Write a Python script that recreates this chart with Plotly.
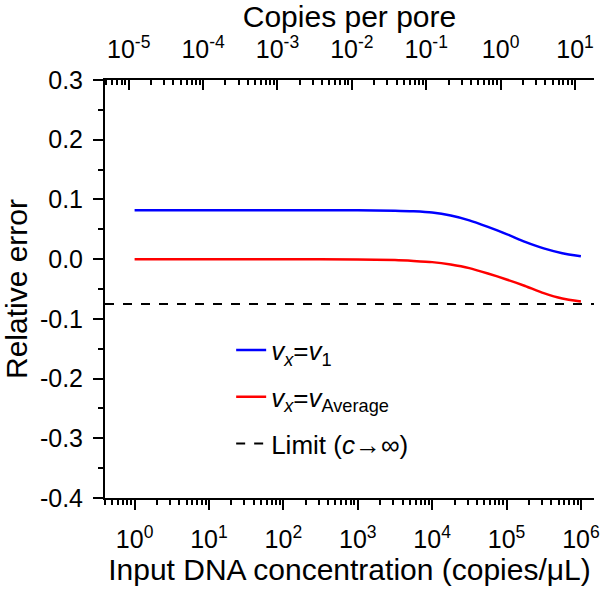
import math
import plotly.graph_objects as go

# ---- data ----
conc = [1, 10, 100, 1000, 3162, 5623, 10000, 17783, 31623, 56234,
        100000, 177828, 316228, 562341, 1000000]          # copies/uL
err_v1 = [0.082, 0.082, 0.082, 0.082, 0.081, 0.080, 0.078, 0.073, 0.065,
          0.054, 0.042, 0.029, 0.018, 0.010, 0.005]
err_vavg = [0.0, 0.0, 0.0, -0.0005, -0.0015, -0.003, -0.005, -0.009, -0.015,
            -0.024, -0.034, -0.045, -0.057, -0.066, -0.071]
limit_val = -0.075
copies_per_pore_factor = 1.2e-5   # copies per pore for 1 copy/uL

x_range_lin = [0.4, 1.5e6]
y_range = [-0.4, 0.3]
y_ticks = [-0.4, -0.3, -0.2, -0.1, 0.0, 0.1, 0.2, 0.3]
y_ticktext = ["-0.4", "-0.3", "-0.2", "-0.1", "0.0", "0.1", "0.2", "0.3"]
bottom_ticks = [1, 10, 100, 1000, 10000, 100000, 1000000]
bottom_ticktext = ["10<sup>%d</sup>" % e for e in range(0, 7)]
top_ticks = [1e-5, 1e-4, 1e-3, 1e-2, 1e-1, 1, 10]
top_ticktext = ["10<sup>%d</sup>" % e for e in range(-5, 2)]

name_v1 = "<i>v</i><sub><i>x</i></sub>=<i>v</i><sub>1</sub>"
name_vavg = "<i>v</i><sub><i>x</i></sub>=<i>v</i><sub>Average</sub>"
name_lim = "Limit (<i>c</i>→∞)"

FONT = "Liberation Sans, Arial, sans-serif"
TICK_SIZE = 25
TITLE_SIZE = 30

fig = go.Figure()
fig.add_trace(go.Scatter(x=conc, y=err_v1, mode="lines", name=name_v1,
                         legendgroup="a",
                         line=dict(color="#0000ff", width=2.5, shape="spline",
                                   smoothing=0.6)))
fig.add_trace(go.Scatter(x=conc, y=err_vavg, mode="lines", name=name_vavg,
                         legendgroup="b",
                         line=dict(color="#ff0000", width=2.5, shape="spline",
                                   smoothing=0.6)))
fig.add_trace(go.Scatter(x=x_range_lin, y=[limit_val, limit_val], mode="lines",
                         name=name_lim, legendgroup="c",
                         line=dict(color="black", width=2, dash="dash")))
# invisible trace so the top axis is drawn
fig.add_trace(go.Scatter(x=[v * copies_per_pore_factor for v in x_range_lin],
                         y=[None, None], xaxis="x2", yaxis="y",
                         mode="lines", showlegend=False, hoverinfo="skip"))

lx = [math.log10(v) for v in x_range_lin]
lf = math.log10(copies_per_pore_factor)

axis_common = dict(showline=True, linewidth=2, linecolor="black",
                   tickwidth=2, tickcolor="black", showgrid=False,
                   zeroline=False, automargin=False,
                   tickfont=dict(family=FONT, size=TICK_SIZE, color="black"))

fig.update_layout(
    width=604, height=589,
    margin=dict(l=105, r=10, t=80, b=91),
    paper_bgcolor="white", plot_bgcolor="white",
    font=dict(family=FONT, color="black"),
    xaxis=dict(type="log", range=lx, tickvals=bottom_ticks,
               ticktext=bottom_ticktext, ticks="outside", ticklen=10,
               ticklabelstandoff=8,
               minor=dict(ticks="outside", ticklen=5, tickwidth=1.5,
                          tickcolor="black", dtick="D1", showgrid=False),
               title=dict(text="Input DNA concentration (copies/μL)",
                          font=dict(family=FONT, size=TITLE_SIZE), standoff=4),
               **axis_common),
    xaxis2=dict(type="log", range=[lx[0] + lf, lx[1] + lf], overlaying="x",
                side="top", anchor="y", tickvals=top_ticks,
                ticktext=top_ticktext, ticks="inside", ticklen=10,
                ticklabelstandoff=10,
                minor=dict(ticks="inside", ticklen=5, tickwidth=1.5,
                           tickcolor="black", dtick="D1", showgrid=False),
                title=dict(text="Copies per pore",
                           font=dict(family=FONT, size=TITLE_SIZE), standoff=12),
                **axis_common),
    yaxis=dict(range=y_range, tickvals=y_ticks, ticktext=y_ticktext,
               ticks="outside", ticklen=10, ticklabelstandoff=5,
               minor=dict(ticks="outside", ticklen=5, tickwidth=1.5,
                          tickcolor="black", dtick=0.05, showgrid=False),
               title=dict(text="Relative error",
                          font=dict(family=FONT, size=TITLE_SIZE), standoff=8),
               **axis_common),
    legend=dict(x=0.258, y=0.41, xanchor="left", yanchor="top",
                bgcolor="rgba(0,0,0,0)", tracegroupgap=10,
                font=dict(family=FONT, size=26, color="black")),
)

fig.write_html("out.html",
               config={"displayModeBar": False},
               post_script="document.body.style.margin='0px';")
